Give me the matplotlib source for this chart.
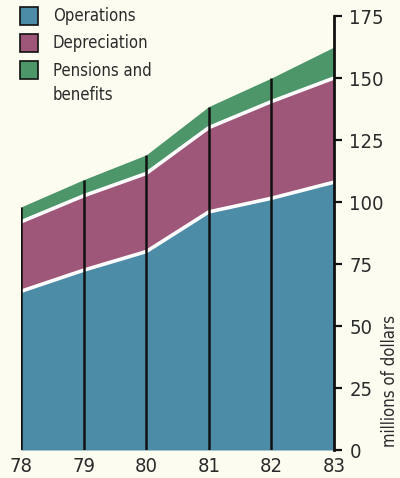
import matplotlib
matplotlib.use("Agg")
import matplotlib.pyplot as plt
from matplotlib.patches import Rectangle

# Cost components, millions of dollars
years = [78, 79, 80, 81, 82, 83]
operations = [64, 72.5, 80, 96, 101.5, 108]
depreciation = [28, 30, 31.5, 34, 39, 42]
pensions = [6, 6.5, 7.5, 8.5, 9.5, 12.5]

series_names = ["Operations", "Depreciation", "Pensions and\nbenefits"]
colors = ["#4d8ca7", "#9f5779", "#4c966a"]
bg = "#fdfcf1"
ink = "#2b2b2b"

plt.rcParams["font.family"] = ["DejaVu Sans"]
plt.rcParams["font.stretch"] = "condensed"

fig = plt.figure(figsize=(4.0, 4.78), dpi=100, facecolor=bg)
ax = fig.add_axes([21 / 400, 28 / 478, 313 / 400, 434 / 478])
ax.set_facecolor(bg)

lower = [0] * len(years)
mid = [o + d for o, d in zip(operations, depreciation)]
top = [m + p for m, p in zip(mid, pensions)]

ax.fill_between(years, lower, operations, color=colors[0], lw=0, zorder=1)
ax.fill_between(years, operations, mid, color=colors[1], lw=0, zorder=1)
ax.fill_between(years, mid, top, color=colors[2], lw=0, zorder=1)

# white separators between layers
ax.plot(years, operations, color="white", lw=2.6, zorder=2, solid_capstyle="butt")
ax.plot(years, mid, color="white", lw=2.6, zorder=2, solid_capstyle="butt")

# year markers
ax.vlines(years[:-1], 0, top[:-1], color="#111111", lw=1.8, zorder=3)

ax.set_xlim(78, 83)
ax.set_ylim(0, 175)

for side in ("left", "top", "bottom"):
    ax.spines[side].set_visible(False)
ax.spines["right"].set_linewidth(2.0)
ax.spines["right"].set_color("#111111")
ax.spines["right"].set_zorder(4)

ax.yaxis.tick_right()
ax.set_yticks(range(0, 176, 25))
ax.tick_params(axis="y", direction="out", length=6, width=1.6, color="#111111",
               pad=5, labelsize=14.5, labelcolor=ink)
ax.set_xticks(years)
ax.set_xticklabels([str(y) for y in years])
ax.tick_params(axis="x", length=0, pad=5, labelsize=14.5, labelcolor=ink)

fig.text(390 / 400, 1 - 381 / 478, "millions of dollars", rotation=90,
         ha="center", va="center", fontsize=12, color=ink)

# legend
box_y = [7, 34, 61]
for name, c, y in zip(series_names, colors, box_y):
    fig.patches.append(Rectangle((20 / 400, 1 - (y + 18) / 478), 18 / 400, 18 / 478,
                                 transform=fig.transFigure, facecolor=c,
                                 edgecolor="#111111", lw=1.2))
    if "\n" in name:
        fig.text(53 / 400, 1 - (y + 1) / 478, name, ha="left", va="top",
                 fontsize=12, color=ink, linespacing=1.45)
    else:
        fig.text(53 / 400, 1 - (y + 9) / 478, name, ha="left", va="center",
                 fontsize=12, color=ink)

fig.savefig("out.png", dpi=100, facecolor=bg)
